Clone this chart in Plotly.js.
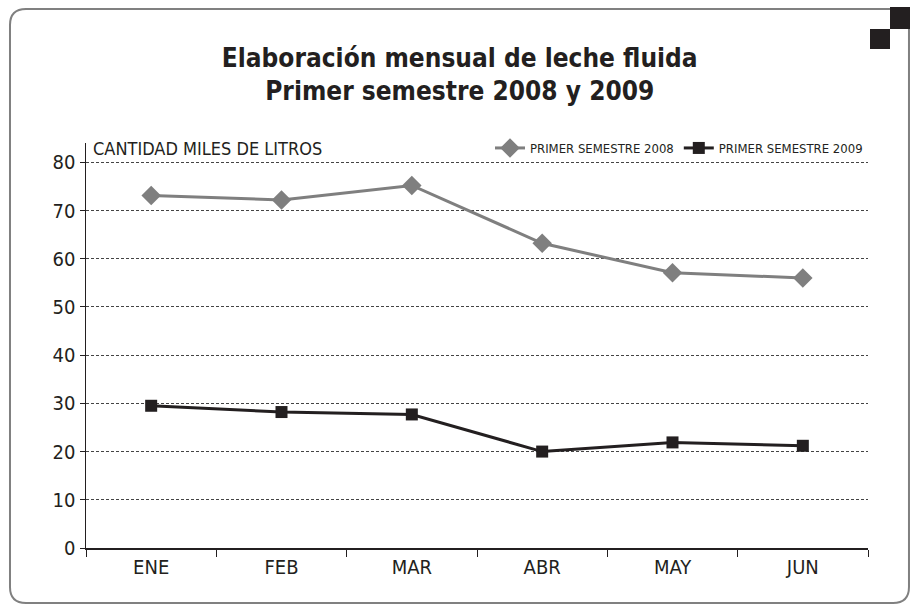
<!DOCTYPE html>
<html>
<head>
<meta charset="utf-8">
<script src="https://cdn.plot.ly/plotly-3.0.1.min.js"></script>
<style>
  body { margin: 0; background: #fff; }
  #chart { width: 914px; height: 606px; }
</style>
</head>
<body>
<div id="chart"></div>
<script>
// months and values (miles de litros)
let months = ["ENE", "FEB", "MAR", "ABR", "MAY", "JUN"];
let sem2008 = [73.1, 72.2, 75.2, 63.2, 57.1, 56.0];
let sem2009 = [29.5, 28.2, 27.7, 20.0, 21.9, 21.2];
let yTicks = [0, 10, 20, 30, 40, 50, 60, 70, 80];

let narrow = "DejaVu Sans Condensed, Liberation Sans Narrow, sans-serif";
let ink = "#231f20";

// plot area in pixels, used to place frame decorations in paper units
let L = 86, R = 868, B = 548, T = 143;
let px = x => (x - L) / (R - L);
let py = y => (B - y) / (B - T);

function framePath() {
    let x0 = 10, y0 = 9, x1 = 909, y1 = 603, r = 16;
    let p = (x, y) => px(x).toFixed(4) + "," + py(y).toFixed(4);
    return "M" + p(x0 + r, y0) + " L" + p(x1, y0) + " L" + p(x1, y1 - r) +
        " Q" + p(x1, y1) + " " + p(x1 - r, y1) + " L" + p(x0 + r, y1) +
        " Q" + p(x0, y1) + " " + p(x0, y1 - r) + " L" + p(x0, y0 + r) +
        " Q" + p(x0, y0) + " " + p(x0 + r, y0) + " Z";
}

let trace2008 = {
    x: months,
    y: sem2008,
    name: "PRIMER SEMESTRE 2008",
    type: "scatter",
    mode: "lines+markers",
    line: { color: "#7f7f7f", width: 3 },
    marker: { symbol: "diamond", size: 15, color: "#7f7f7f" }
};

let trace2009 = {
    x: months,
    y: sem2009,
    name: "PRIMER SEMESTRE 2009",
    type: "scatter",
    mode: "lines+markers",
    line: { color: ink, width: 3 },
    marker: { symbol: "square", size: 12, color: ink }
};

let layout = {
    width: 914,
    height: 606,
    margin: { l: L, r: 914 - R, t: T, b: 606 - B },
    paper_bgcolor: "#fff",
    plot_bgcolor: "#fff",
    font: { family: narrow, color: ink },
    title: {
        text: "<b>Elaboración mensual de leche fluida<br>Primer semestre 2008 y 2009</b>",
        font: { family: narrow, size: 26, color: ink },
        x: 0.503,
        xanchor: "center",
        y: 0.89,
        yanchor: "top"
    },
    showlegend: true,
    legend: {
        orientation: "h",
        x: px(868),
        xanchor: "right",
        y: py(148),
        yanchor: "middle",
        font: { family: narrow, size: 13, color: ink },
        bgcolor: "rgba(0,0,0,0)",
        traceorder: "normal"
    },
    xaxis: {
        type: "category",
        range: [-0.5, 5.5],
        tickson: "boundaries",
        ticks: "outside",
        ticklen: 7,
        tickcolor: ink,
        showline: true,
        linecolor: ink,
        linewidth: 1.5,
        showgrid: false,
        zeroline: false,
        tickfont: { family: narrow, size: 20, color: ink },
        fixedrange: true
    },
    yaxis: {
        range: [0, 84],
        tickvals: yTicks,
        ticks: "outside",
        ticklen: 5,
        tickcolor: ink,
        showline: true,
        linecolor: ink,
        linewidth: 1.5,
        showgrid: true,
        gridcolor: "#444",
        gridwidth: 1,
        griddash: "3px,2px",
        zeroline: false,
        tickfont: { family: narrow, size: 20, color: ink },
        fixedrange: true
    },
    annotations: [{
        text: "CANTIDAD MILES DE LITROS",
        xref: "paper", yref: "paper",
        x: px(91), y: py(148),
        xanchor: "left", yanchor: "middle",
        showarrow: false,
        font: { family: narrow, size: 18, color: ink }
    }],
    shapes: [
        {
            type: "path", xref: "paper", yref: "paper",
            path: framePath(),
            line: { color: "#808080", width: 2 },
            fillcolor: "rgba(0,0,0,0)"
        },
        {
            type: "rect", xref: "paper", yref: "paper",
            x0: px(890), x1: px(910), y0: py(7), y1: py(29),
            line: { width: 0 }, fillcolor: ink
        },
        {
            type: "rect", xref: "paper", yref: "paper",
            x0: px(870), x1: px(890), y0: py(29), y1: py(49),
            line: { width: 0 }, fillcolor: ink
        }
    ]
};

Plotly.newPlot("chart", [trace2008, trace2009], layout, { displayModeBar: false, staticPlot: true });
</script>
</body>
</html>
